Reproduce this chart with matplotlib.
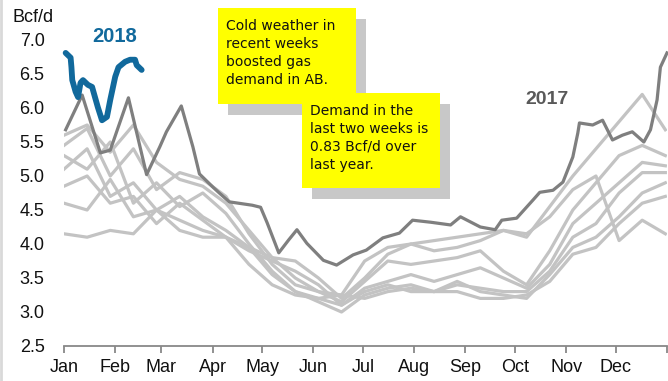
import numpy as np
import matplotlib
matplotlib.use("Agg")
import matplotlib.pyplot as plt
from matplotlib.patches import Rectangle

plt.rcParams['font.family'] = ['Liberation Sans', 'DejaVu Sans']

# month labels and day-of-year of month starts
months = ['Jan', 'Feb', 'Mar', 'Apr', 'May', 'Jun', 'Jul', 'Aug', 'Sep', 'Oct', 'Nov', 'Dec']
month_starts = [0, 31, 59, 90, 120, 151, 181, 212, 243, 273, 304, 334, 365]

# earlier years (light gray), sampled every two weeks
gray_days = [0, 14, 28, 42, 56, 70, 84, 98, 112, 126, 140, 154, 168, 182,
             196, 210, 224, 238, 252, 266, 280, 294, 308, 322, 336, 350, 364]
gray_years = [
    [5.6, 5.75, 5.35, 5.75, 5.2, 4.95, 4.85, 4.6, 4.2, 3.8, 3.5, 3.3, 3.25, 3.75,
     3.95, 4.0, 4.05, 4.1, 4.15, 4.2, 4.1, 4.55, 5.0, 5.4, 5.8, 6.2, 5.68],
    [5.45, 5.7, 5.0, 5.4, 4.8, 5.05, 4.95, 4.7, 4.15, 3.7, 3.4, 3.3, 3.15, 3.45,
     3.75, 3.7, 3.75, 3.8, 3.9, 3.6, 3.4, 3.9, 4.5, 4.9, 5.3, 5.45, 5.3],
    [5.3, 5.1, 5.5, 4.6, 4.9, 4.55, 4.75, 4.45, 4.0, 3.6, 3.3, 3.2, 3.1, 3.35,
     3.45, 3.55, 3.45, 3.55, 3.65, 3.5, 3.35, 3.7, 4.3, 4.6, 4.9, 5.2, 5.15],
    [5.1, 5.4, 4.7, 4.9, 4.5, 4.7, 4.4, 4.2, 3.95, 3.55, 3.3, 3.15, 3.0, 3.25,
     3.35, 3.4, 3.3, 3.4, 3.35, 3.3, 3.3, 3.6, 4.1, 4.3, 4.75, 5.05, 5.05],
    [4.85, 5.0, 4.6, 4.7, 4.3, 4.6, 4.35, 4.1, 3.7, 3.4, 3.25, 3.2, 3.25, 3.2,
     3.3, 3.35, 3.3, 3.45, 3.3, 3.25, 3.2, 3.55, 3.95, 4.1, 4.4, 4.75, 4.9],
    [4.6, 4.5, 4.95, 4.4, 4.5, 4.35, 4.2, 4.1, 3.9, 3.75, 3.6, 3.4, 3.1, 3.3,
     3.4, 3.3, 3.3, 3.3, 3.2, 3.2, 3.25, 3.45, 3.85, 3.95, 4.3, 4.6, 4.7],
    [4.15, 4.1, 4.2, 4.15, 4.5, 4.2, 4.1, 4.1, 3.95, 3.8, 3.75, 3.5, 3.2, 3.5,
     3.85, 4.0, 3.9, 3.95, 4.05, 4.2, 4.15, 4.4, 4.8, 5.0, 4.05, 4.35, 4.15],
]

# 2017
days_2017 = [1, 11, 22, 28, 39, 50, 58, 62, 71, 78, 82, 90, 94, 100, 114, 119,
             123, 130, 136, 141, 147, 157, 165, 175, 183, 193, 203, 211, 222,
             234, 240, 252, 261, 265, 274, 284, 288, 296, 302, 308, 311, 312,
             320, 326, 332, 338, 344, 351, 355, 359, 361, 365]
vals_2017 = [5.68, 6.19, 5.34, 5.38, 6.15, 5.02, 5.43, 5.65, 6.03, 5.43, 5.03,
             4.84, 4.75, 4.62, 4.57, 4.54, 4.31, 3.87, 4.06, 4.21, 4.01, 3.76,
             3.69, 3.84, 3.91, 4.09, 4.16, 4.35, 4.32, 4.28, 4.40, 4.25, 4.21,
             4.35, 4.38, 4.65, 4.76, 4.79, 4.91, 5.28, 5.63, 5.78, 5.75, 5.82,
             5.53, 5.60, 5.65, 5.50, 5.68, 6.12, 6.60, 6.81]

# 2018 year to date
days_2018 = [1, 4, 4.5, 5, 7, 8.5, 10, 11.5, 14.5, 17, 20.5, 23, 26, 28, 31,
             33, 37, 40, 43, 44, 47]
vals_2018 = [6.81, 6.74, 6.6, 6.41, 6.24, 6.16, 6.37, 6.41, 6.34, 6.31, 6.01,
             5.82, 5.87, 6.12, 6.46, 6.6, 6.68, 6.71, 6.71, 6.63, 6.56]

yticks = [2.5, 3.0, 3.5, 4.0, 4.5, 5.0, 5.5, 6.0, 6.5, 7.0]

W, H = 668, 381
fig = plt.figure(figsize=(W / 100, H / 100), dpi=100)
ax = fig.add_axes([64 / W, 1 - 346 / H, 603 / W, 306 / H])

for vals in gray_years:
    ax.plot(gray_days, vals, color='#c3c3c3', lw=2.3, solid_joinstyle='round')
ax.plot(days_2017, vals_2017, color='#7f7f7f', lw=2.3, clip_on=False)
ax.plot(days_2018, vals_2018, color='#11699c', lw=4.2, clip_on=False,
        solid_capstyle='round', solid_joinstyle='round')

ax.set_xlim(0, 365)
ax.set_ylim(2.5, 7.0)
ax.set_xticks(month_starts)
ax.set_xticklabels(months + [''])
ax.set_yticks(yticks)
ax.set_yticklabels([f'{v:.1f}' for v in yticks])
for s in ['top', 'right', 'left']:
    ax.spines[s].set_visible(False)
ax.spines['bottom'].set_color('#888888')
ax.spines['bottom'].set_linewidth(1.3)
ax.tick_params(axis='x', colors='#888888', length=5, width=1.3,
               labelcolor='#111111', labelsize=13, pad=4)
ax.tick_params(axis='y', length=0, labelsize=13, labelcolor='#111111', pad=14)

fig.text(12 / W, 1 - 17 / H, 'Bcf/d', fontsize=13, va='center', ha='left',
         color='#111111')
fig.text(115 / W, 1 - 37 / H, '2018', fontsize=14.5, fontweight='bold',
         color='#11699c', ha='center', va='center')
fig.text(547 / W, 1 - 100 / H, '2017', fontsize=14, fontweight='bold',
         color='#595959', ha='center', va='center')


def note(x0, y0, x1, y1, lines):
    # yellow call-out with a gray drop shadow, given in pixel coords
    fig.add_artist(Rectangle((x0 / W + 10 / W, 1 - (y1 + 11) / H),
                             (x1 - x0) / W, (y1 - y0) / H,
                             transform=fig.transFigure, color='#c8c8c8', lw=0))
    fig.add_artist(Rectangle((x0 / W, 1 - y1 / H), (x1 - x0) / W, (y1 - y0) / H,
                             transform=fig.transFigure, color='#ffff00', lw=0))
    fig.text((x0 + 8) / W, 1 - (y0 + 11) / H, '\n'.join(lines), fontsize=10,
             family='DejaVu Sans', va='top', ha='left', color='#111111',
             linespacing=1.35)


note(218, 8, 356, 104, ['Cold weather in', 'recent weeks', 'boosted gas',
                        'demand in AB.'])
note(302, 93, 440, 188, ['Demand in the', 'last two weeks is',
                         '0.83 Bcf/d over', 'last year.'])

fig.add_artist(plt.Line2D([1 / W, 1 / W], [0, 1], transform=fig.transFigure,
                          color='#d9d9d9', lw=2))

fig.savefig('out.png', dpi=100)
